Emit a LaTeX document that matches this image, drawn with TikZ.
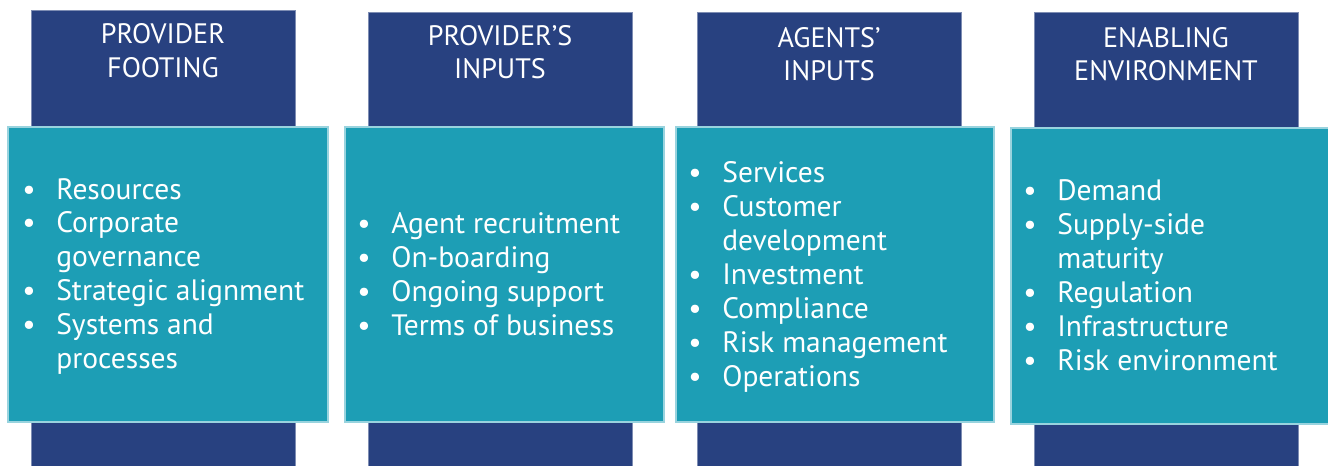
\documentclass[tikz,border=0pt]{standalone}
\usepackage{fontspec}
\setmainfont{PT Sans}
\definecolor{navyback}{HTML}{284180}
\definecolor{tealfront}{HTML}{1D9EB5}
\tikzset{
  colback/.style={fill=navyback, draw=navyback!60!white, line width=0.4pt},
  listbox/.style={fill=tealfront, draw=tealfront!45!white, line width=0.6pt},
  headtext/.style={anchor=base, text=white, inner sep=0pt, font=\fontsize{16}{18.8}\selectfont},
  listtext/.style={anchor=base west, text=white, inner sep=0pt, font=\fontsize{16.8}{19.35}\selectfont}
}
\newcommand{\bul}{\makebox[0.68cm][l]{\textbullet}}
\newcommand{\nobul}{\hspace*{0.68cm}}
\begin{document}
\begin{tikzpicture}[x=0.02cm, y=-0.02cm]
\useasboundingbox (0,0) rectangle (1328,466);

% Columnas de fondo
\draw[colback] (31,10) rectangle (295,470);
\draw[colback] (368,12) rectangle (632,470);
\draw[colback] (697,12) rectangle (961,470);
\draw[colback] (1034,12) rectangle (1298,470);

% Cajas de contenido
\draw[listbox] (8,127) rectangle (328,422);
\draw[listbox] (345,127) rectangle (664,422);
\draw[listbox] (676,127) rectangle (994,422);
\draw[listbox] (1011,128) rectangle (1332,424);

% Titulos
\node[headtext] (footing) at (163,44) {\begin{tabular}[t]{@{}c@{}}PROVIDER\\FOOTING\end{tabular}};
\node[headtext] (provinputs) at (500,45.5) {\begin{tabular}[t]{@{}c@{}}PROVIDER’S\\INPUTS\end{tabular}};
\node[headtext] (agentinputs) at (829,47.5) {\begin{tabular}[t]{@{}c@{}}AGENTS’\\INPUTS\end{tabular}};
\node[headtext] (environment) at (1166,47.5) {\begin{tabular}[t]{@{}c@{}}ENABLING\\ENVIRONMENT\end{tabular}};

% Listas
\node[listtext] (footinglist) at (22,199) {\begin{tabular}[t]{@{}l@{}}
\bul Resources\\
\bul Corporate\\
\nobul governance\\
\bul Strategic alignment\\
\bul Systems and\\
\nobul processes
\end{tabular}};
\node[listtext] (provlist) at (357,233.5) {\begin{tabular}[t]{@{}l@{}}
\bul Agent recruitment\\
\bul On-boarding\\
\bul Ongoing support\\
\bul Terms of business
\end{tabular}};
\node[listtext] (agentlist) at (688,182.5) {\begin{tabular}[t]{@{}l@{}}
\bul Services\\
\bul Customer\\
\nobul development\\
\bul Investment\\
\bul Compliance\\
\bul Risk management\\
\bul Operations
\end{tabular}};
\node[listtext] (envlist) at (1023,200.5) {\begin{tabular}[t]{@{}l@{}}
\bul Demand\\
\bul Supply-side\\
\nobul maturity\\
\bul Regulation\\
\bul Infrastructure\\
\bul Risk environment
\end{tabular}};
\end{tikzpicture}
\end{document}
